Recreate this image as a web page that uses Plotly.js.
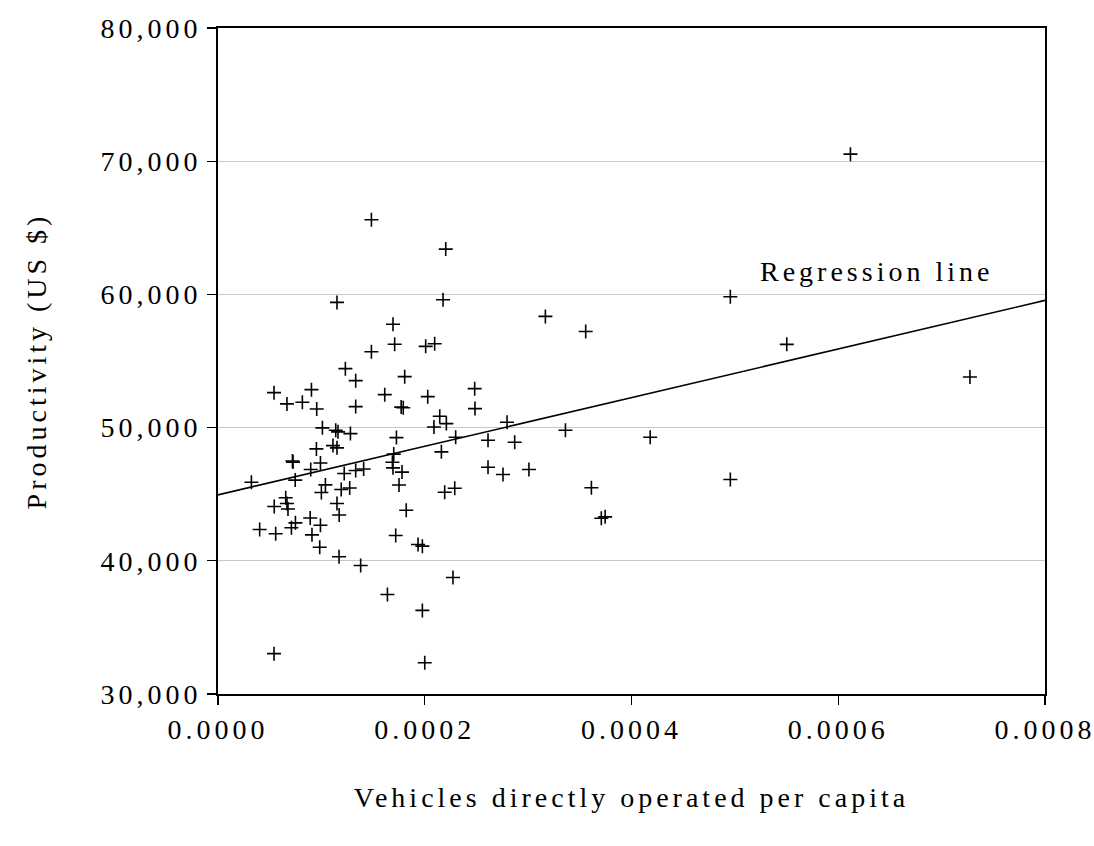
<!DOCTYPE html>
<html>
<head>
<meta charset="utf-8">
<script src="https://cdn.plot.ly/plotly-3.0.1.min.js"></script>
<style>
  html, body { margin: 0; padding: 0; background: #ffffff; }
  #chart { width: 1094px; height: 846px; }
  #chart .main-svg text {
    letter-spacing: 4px;
    font-family: "Liberation Serif", "Times New Roman", "DejaVu Serif", serif !important;
  }
</style>
</head>
<body>
<div id="chart"></div>
<script>
// Vehicles directly operated per capita (x) and productivity in US$ (y)
var vehiclesPerCapita = [
  0.0000323, 0.0000542, 0.0000667, 0.0000816, 0.0000904, 0.0000955, 0.0001232, 0.0001332,
  0.0001332, 0.0001484, 0.0001613, 0.0001693, 0.0001709, 0.0001806, 0.0001772, 0.0001792,
  0.0002009, 0.0002096, 0.0002029, 0.0001010, 0.0001139, 0.0001161, 0.0001281, 0.0001726,
  0.0000952, 0.0001112, 0.0001151, 0.0000720, 0.0000726, 0.0000991, 0.0000897, 0.0001700,
  0.0001687, 0.0001693, 0.0001780, 0.0000747, 0.0001221, 0.0001332, 0.0001409, 0.0001039,
  0.0001000, 0.0001192, 0.0001274, 0.0001751, 0.0000655, 0.0000667, 0.0000677, 0.0000544,
  0.0001151, 0.0001172, 0.0001821, 0.0000892, 0.0000749, 0.0000710, 0.0000403, 0.0000558,
  0.0000991, 0.0000909, 0.0000984, 0.0001171, 0.0001380, 0.0001719, 0.0001935, 0.0001977,
  0.0001639, 0.0001977, 0.0000542, 0.0002000, 0.0001484, 0.0001151, 0.0002203, 0.0002177,
  0.0003167, 0.0003557, 0.0002483, 0.0002486, 0.0002145, 0.0002089, 0.0002209, 0.0002796,
  0.0003361, 0.0002299, 0.0002612, 0.0002870, 0.0002161, 0.0002612, 0.0002757, 0.0003008,
  0.0002193, 0.0002290, 0.0003612, 0.0002273, 0.0003708, 0.0003745, 0.0004181, 0.0004956,
  0.0004956, 0.0005502, 0.0006118, 0.0007274
];
var productivity = [
  45900, 52625, 51780, 51900, 52850, 51400, 54425, 53525,
  51575, 55700, 52475, 57760, 56260, 53825, 51540, 51485,
  56100, 56300, 52325, 49980, 49800, 49680, 49550, 49250,
  48400, 48650, 48480, 47490, 47410, 47340, 46850, 48010,
  47400, 46980, 46660, 46060, 46550, 46775, 46890, 45700,
  45125, 45350, 45460, 45690, 44730, 44300, 43890, 44075,
  44300, 43440, 43800, 43210, 42850, 42480, 42350, 42030,
  42670, 41950, 41020, 40300, 39650, 41900, 41225, 41100,
  37475, 36275, 33030, 32350, 65600, 59400, 63400, 59600,
  58350, 57220, 52925, 51425, 50850, 50050, 50300, 50400,
  49800, 49270, 49050, 48900, 48180, 47020, 46475, 46850,
  45150, 45450, 45480, 38750, 43200, 43300, 49270, 59825,
  46100, 56250, 70530, 53800
];
// Regression line end points
var regressionX = [0.0000, 0.0008];
var regressionY = [44950, 59550];
// Axis ticks
var xTickVals = [0.0000, 0.0002, 0.0004, 0.0006, 0.0008];
var xTickText = ["0.0000", "0.0002", "0.0004", "0.0006", "0.0008"];
var yTickVals = [30000, 40000, 50000, 60000, 70000, 80000];
var yTickText = ["30,000", "40,000", "50,000", "60,000", "70,000", "80,000"];

var serif = "Liberation Serif";

var traces = [
  {
    type: "scatter",
    mode: "lines",
    x: regressionX,
    y: regressionY,
    line: { color: "#000000", width: 1.6 },
    hoverinfo: "skip",
    showlegend: false
  },
  {
    type: "scatter",
    mode: "markers",
    x: vehiclesPerCapita,
    y: productivity,
    marker: {
      symbol: "cross-thin",
      size: 10,
      color: "#000000",
      line: { color: "#000000", width: 1.6 }
    },
    showlegend: false
  }
];

var layout = {
  width: 1094,
  height: 846,
  paper_bgcolor: "#ffffff",
  plot_bgcolor: "#ffffff",
  margin: { l: 218, r: 49, t: 28, b: 152 },
  font: { family: serif, size: 28, color: "#000000" },
  showlegend: false,
  xaxis: {
    range: [0, 0.0008],
    tickmode: "array",
    tickvals: xTickVals,
    ticktext: xTickText,
    ticks: "outside",
    ticklen: 9,
    tickwidth: 1.2,
    tickcolor: "#000000",
    showgrid: false,
    zeroline: false,
    showline: true,
    linecolor: "#000000",
    linewidth: 2,
    mirror: true,
    tickfont: { family: serif, size: 28, color: "#000000" },
    title: {
      text: "Vehicles directly operated per capita",
      font: { family: serif, size: 28, color: "#000000" },
      standoff: 44
    }
  },
  yaxis: {
    range: [30000, 80000],
    tickmode: "array",
    tickvals: yTickVals,
    ticktext: yTickText,
    ticks: "outside",
    ticklen: 9,
    tickwidth: 1.2,
    tickcolor: "#000000",
    showgrid: true,
    gridcolor: "#c8c8c8",
    gridwidth: 1,
    zeroline: false,
    showline: true,
    linecolor: "#000000",
    linewidth: 2,
    mirror: true,
    tickfont: { family: serif, size: 28, color: "#000000" },
    title: {
      text: "Productivity (US $)",
      font: { family: serif, size: 28, color: "#000000" },
      standoff: 70
    }
  },
  annotations: [
    {
      text: "Regression line",
      x: 0.000637,
      y: 61700,
      xref: "x",
      yref: "y",
      xanchor: "center",
      yanchor: "middle",
      showarrow: false,
      font: { family: serif, size: 28, color: "#000000" }
    }
  ]
};

Plotly.newPlot("chart", traces, layout, { displayModeBar: false, staticPlot: true });
</script>
</body>
</html>
